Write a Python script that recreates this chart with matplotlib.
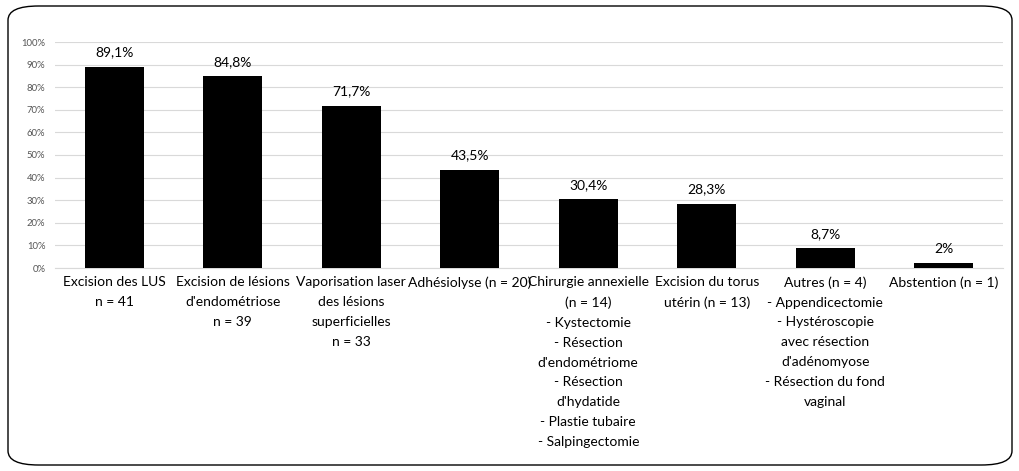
import matplotlib
matplotlib.use("Agg")
import matplotlib.pyplot as plt
from matplotlib.patches import FancyBboxPatch

categories = [
    "Excision des LUS\nn = 41",
    "Excision de lésions\nd'endométriose\nn = 39",
    "Vaporisation laser\ndes lésions\nsuperficielles\nn = 33",
    "Adhésiolyse (n = 20)",
    "Chirurgie annexielle\n(n = 14)\n- Kystectomie\n- Résection\nd'endométriome\n- Résection\nd'hydatide\n- Plastie tubaire\n- Salpingectomie",
    "Excision du torus\nutérin (n = 13)",
    "Autres (n = 4)\n- Appendicectomie\n- Hystéroscopie\navec résection\nd'adénomyose\n- Résection du fond\nvaginal",
    "Abstention (n = 1)",
]
values = [89.1, 84.8, 71.7, 43.5, 30.4, 28.3, 8.7, 2.0]
value_labels = ["89,1%", "84,8%", "71,7%", "43,5%", "30,4%", "28,3%", "8,7%", "2%"]
yticks = [0, 10, 20, 30, 40, 50, 60, 70, 80, 90, 100]

plt.rcParams['font.family'] = ['Lato', 'DejaVu Sans']

fig = plt.figure(figsize=(10.2, 4.71), dpi=100)
ax = fig.add_axes([55/1020, 1-268/471, 948/1020, 226/471])

x = list(range(len(values)))
ax.bar(x, values, width=0.5, color='black', zorder=3)
for xi, v, lab in zip(x, values, value_labels):
    ax.text(xi, v + 3.8, lab, ha='center', va='bottom', fontsize=10, color='black')

ax.set_xlim(-0.5, len(values) - 0.5)
ax.set_ylim(0, 100)
ax.set_yticks(yticks)
ax.set_yticklabels([f"{t}%" for t in yticks], fontsize=6.8, color='#555555')
ax.yaxis.grid(True, color='#d9d9d9', linewidth=0.8, zorder=0)
ax.tick_params(axis='y', length=0, pad=7)
ax.tick_params(axis='x', length=0, pad=6)
ax.set_xticks(x)
ax.set_xticklabels(categories, fontsize=10, linespacing=1.78, va='top')
for s in ['top', 'right', 'left']:
    ax.spines[s].set_visible(False)
ax.spines['bottom'].set_color('#d9d9d9')

box = FancyBboxPatch((8/1020, 6/471), 1004/1020, 459/471,
                     boxstyle="round,pad=0,rounding_size=0.03",
                     transform=fig.transFigure, fill=False,
                     edgecolor='black', linewidth=1.0)
fig.patches.append(box)

fig.savefig("out.png", dpi=100)
